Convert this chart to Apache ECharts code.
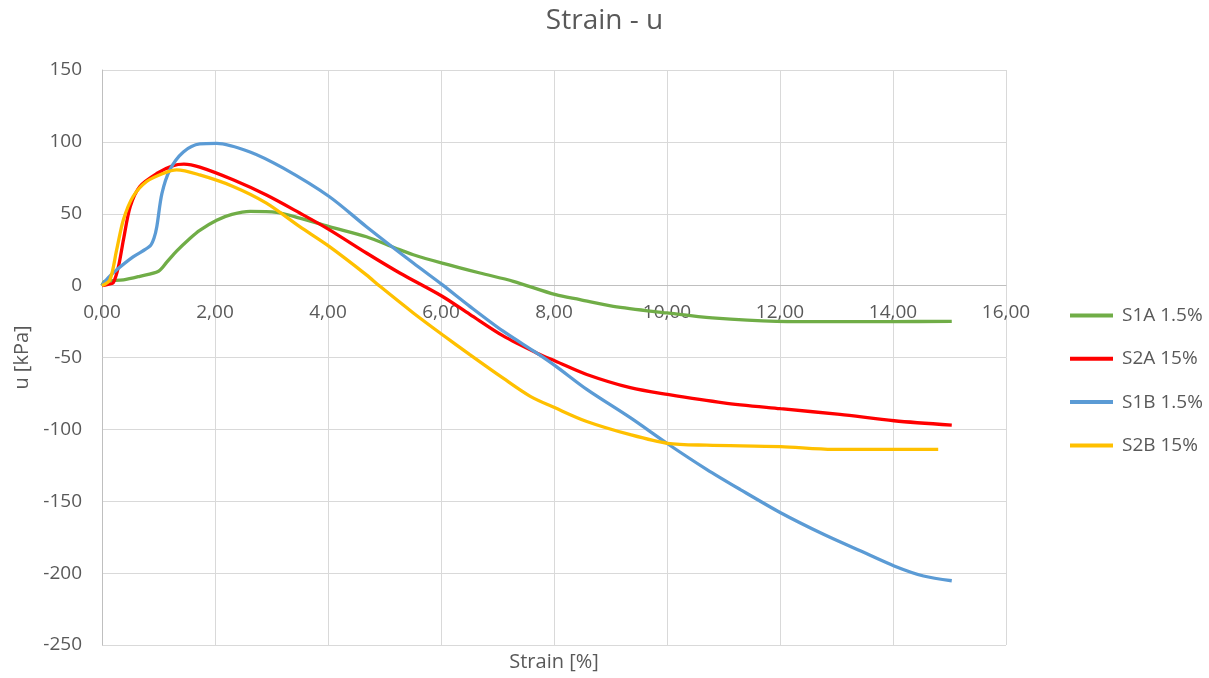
<!DOCTYPE html>
<html>
<head>
<meta charset="utf-8">
<title>Strain - u</title>
<script src="https://cdn.jsdelivr.net/npm/echarts@6/dist/echarts.min.js"></script>
<style>
  html, body { margin: 0; padding: 0; background: #ffffff; }
  #chart { width: 1209px; height: 678px; }
</style>
</head>
<body>
<div id="chart"></div>
<script>
// Pore pressure u [kPa] against axial strain [%] for four specimens
const seriesNames = ['S1A 1.5%', 'S2A 15%', 'S1B 1.5%', 'S2B 15%'];
const seriesColors = ['#70AD47', '#FF0000', '#5B9BD5', '#FFC000'];

const s1aStrain = [0, 0.05, 0.38, 0.67, 1.0, 1.15, 1.32, 1.56, 1.73, 2.03, 2.3, 2.62, 3.09, 3.5, 4.02, 4.68, 5.2, 5.51, 6.02, 6.69, 7.28, 8.03, 8.46, 9.05, 10.0, 10.8, 11.94, 13.0, 14.0, 15.04];
const s1aU      = [0, 3, 4, 6.5, 10, 16.5, 24, 33, 38.5, 45.5, 49.5, 51.6, 51, 47, 41, 34, 26, 21.5, 15.7, 8.8, 3, -6.3, -9.7, -14.4, -19, -22.5, -24.8, -25, -25, -24.8];

const s2aStrain = [0, 0.12, 0.2, 0.29, 0.38, 0.5, 0.67, 0.97, 1.26, 1.45, 1.73, 2.32, 2.91, 3.5, 4.02, 4.68, 5.27, 6.02, 6.51, 7.1, 7.69, 8.03, 8.58, 9.35, 10.01, 11.0, 12.01, 13.06, 14.02, 15.04];
const s2aU      = [0, 1, 2, 13, 32, 55, 69, 78, 83.5, 84.5, 82.4, 73.6, 63, 50.5, 39, 22.7, 8.8, -7.4, -20, -35, -46.8, -52.6, -61.8, -71, -75.7, -81.5, -85.6, -89.6, -94, -97];

const s1bStrain = [0, 0.1, 0.26, 0.55, 0.85, 0.92, 0.97, 1.06, 1.2, 1.44, 1.73, 2.03, 2.62, 3.21, 4.02, 4.68, 5.51, 6.02, 6.51, 7.1, 7.69, 8.03, 8.58, 9.35, 10.01, 10.7, 11.29, 12.01, 12.77, 13.42, 14.02, 14.54, 15.04];
const s1bU      = [0, 5, 11, 20, 27.5, 33, 41, 64, 80.5, 93, 98.6, 99, 93, 81.7, 62, 41, 15.7, 0.7, -14.4, -31.7, -46.8, -56, -72.2, -91.9, -110, -127.8, -141.7, -158, -173, -184.5, -195, -202, -205.3];

const s2bStrain = [0, 0.14, 0.26, 0.38, 0.55, 0.79, 1.08, 1.32, 1.73, 2.32, 2.91, 3.5, 4.02, 4.68, 4.92, 5.51, 6.02, 6.51, 7.1, 7.58, 8.03, 8.58, 9.35, 10.01, 10.7, 12.01, 12.94, 14.8];
const s2bU      = [0, 4, 25, 46, 62, 72.4, 78, 80.5, 77, 69, 57.4, 41, 27.3, 7.5, -0.5, -19, -34, -48, -64.4, -77, -85.2, -94.5, -103.7, -109.7, -111, -112, -113.9, -113.9];

const strainSets = [s1aStrain, s2aStrain, s1bStrain, s2bStrain];
const uSets = [s1aU, s2aU, s1bU, s2bU];

// axis ranges
const X_MIN = 0, X_MAX = 16, X_STEP = 2;
const Y_MIN = -250, Y_MAX = 150, Y_STEP = 50;

const FONT = '"Open Sans", "Noto Sans", sans-serif';
const TEXT = '#595959';

const GRID = { left: 102, right: 203, top: 70, bottom: 33 };
const plotH = 678 - GRID.top - GRID.bottom;
// move the strain axis up from the bottom edge to the u = 0 line
const zeroOffset = -plotH * (0 - Y_MIN) / (Y_MAX - Y_MIN);

const chart = echarts.init(document.getElementById('chart'), null, { renderer: 'canvas' });

const series = seriesNames.map((name, i) => ({
  name: name,
  type: 'line',
  data: strainSets[i].map((x, k) => [x, uSets[i][k]]),
  showSymbol: false,
  smooth: 0.3,
  lineStyle: { color: seriesColors[i], width: 3.3 },
  itemStyle: { color: seriesColors[i] },
  emphasis: { disabled: true },
  animation: false
}));

chart.setOption({
  animation: false,
  backgroundColor: '#ffffff',
  title: {
    text: 'Strain - u',
    left: 'center',
    top: 2,
    textStyle: { fontFamily: FONT, fontSize: 28, fontWeight: 'normal', color: TEXT }
  },
  grid: Object.assign({ containLabel: false, outerBoundsMode: 'none' }, GRID),
  legend: {
    orient: 'vertical',
    left: 1070,
    top: 306,
    padding: 0,
    itemGap: 24.3,
    itemWidth: 43,
    itemHeight: 4,
    icon: 'rect',
    data: seriesNames,
    textStyle: { fontFamily: FONT, fontSize: 19, color: TEXT, lineHeight: 19, padding: [0, 0, 0, 4] }
  },
  xAxis: {
    type: 'value',
    min: X_MIN,
    max: X_MAX,
    interval: X_STEP,
    position: 'bottom',
    offset: zeroOffset,
    name: 'Strain [%]',
    nameLocation: 'middle',
    nameGap: 367,
    nameTextStyle: { fontFamily: FONT, fontSize: 20, color: TEXT },
    axisLine: { onZero: false, lineStyle: { color: '#bfbfbf', width: 1 } },
    axisTick: { show: false },
    axisLabel: {
      fontFamily: FONT, fontSize: 19, color: TEXT, margin: 17,
      formatter: v => v.toFixed(2).replace('.', ',')
    },
    splitLine: { show: true, lineStyle: { color: '#d9d9d9', width: 1 } }
  },
  yAxis: {
    type: 'value',
    min: Y_MIN,
    max: Y_MAX,
    interval: Y_STEP,
    name: 'u [kPa]',
    nameLocation: 'middle',
    nameGap: 68,
    nameTextStyle: { fontFamily: FONT, fontSize: 20, color: TEXT },
    axisLine: { show: true, onZero: false, lineStyle: { color: '#bfbfbf', width: 1 } },
    axisTick: { show: false },
    axisLabel: { fontFamily: FONT, fontSize: 19, color: TEXT, margin: 20 },
    splitLine: { show: true, lineStyle: { color: '#d9d9d9', width: 1 } }
  },
  series: series
});
</script>
</body>
</html>
